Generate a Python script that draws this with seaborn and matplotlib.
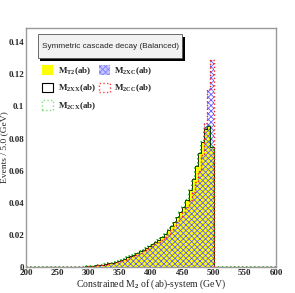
import numpy as np
import pandas as pd
import seaborn as sns
import matplotlib
matplotlib.use('Agg')
import matplotlib.pyplot as plt
from matplotlib.patches import Patch, Rectangle
from matplotlib.ticker import MultipleLocator, FuncFormatter

# Histogram contents, 5 GeV bins starting at 290 GeV (all other bins are empty).
bin_starts = list(range(290, 500, 5))
mt2_vals = [0.0002, 0.0003, 0.0005, 0.0007, 0.0009, 0.0012, 0.0015, 0.0019, 0.0023, 0.0027,
            0.0032, 0.0038, 0.0045, 0.0052, 0.0060, 0.0068, 0.0077, 0.0087, 0.0097, 0.0108,
            0.0118, 0.0128, 0.0140, 0.0155, 0.0170, 0.0188, 0.0207, 0.0228, 0.0252, 0.0280,
            0.0310, 0.0340, 0.0375, 0.0420, 0.0480, 0.0550, 0.0630, 0.0710, 0.0780, 0.0860,
            0.0880, 0.0750]
m2xc_vals = [0.0001, 0.0002, 0.0003, 0.0005, 0.0007, 0.0009, 0.0012, 0.0015, 0.0019, 0.0023,
             0.0027, 0.0032, 0.0038, 0.0045, 0.0052, 0.0060, 0.0068, 0.0077, 0.0087, 0.0097,
             0.0108, 0.0118, 0.0128, 0.0140, 0.0155, 0.0170, 0.0188, 0.0207, 0.0228, 0.0252,
             0.0280, 0.0310, 0.0340, 0.0375, 0.0415, 0.0470, 0.0530, 0.0600, 0.0700, 0.0900,
             0.1110, 0.1290]
# The XX / CX variants follow MT2, the CC variant follows XC.
m2xx_vals = mt2_vals
m2cx_vals = mt2_vals
m2cc_vals = m2xc_vals

x_ticks = [200, 250, 300, 350, 400, 450, 500, 550, 600]
title_text = 'Symmetric cascade decay (Balanced)'
labels = [r'M$_{\mathbf{T2}}$(ab)', r'M$_{\mathbf{2XX}}$(ab)', r'M$_{\mathbf{2CX}}$(ab)',
          r'M$_{\mathbf{2XC}}$(ab)', r'M$_{\mathbf{2CC}}$(ab)']

sns.set_style('white')
plt.rcParams['font.family'] = ['Liberation Serif', 'DejaVu Serif']
plt.rcParams['font.weight'] = 'bold'
plt.rcParams['mathtext.fontset'] = 'custom'
plt.rcParams['mathtext.rm'] = 'Liberation Serif:bold'
plt.rcParams['mathtext.bf'] = 'Liberation Serif:bold'
plt.rcParams['mathtext.it'] = 'Liberation Serif:bold'
plt.rcParams['hatch.linewidth'] = 0.6

centers = np.array(bin_starts) + 2.5
df = pd.DataFrame({'x': centers, 'mt2': mt2_vals, 'm2xx': m2xx_vals, 'm2cx': m2cx_vals,
                   'm2xc': m2xc_vals, 'm2cc': m2cc_vals})
hist_kw = dict(data=df, x='x', binwidth=5, binrange=(200, 600), element='step')

fig = plt.figure(figsize=(2.95, 2.93), dpi=100)
ax = fig.add_axes([0.088, 0.089, 0.848, 0.816])

# MT2: solid yellow
sns.histplot(weights='mt2', fill=True, color='#ffff00', facecolor='#ffff00', edgecolor='#ffff00',
             alpha=1, linewidth=0.5, ax=ax, **hist_kw)
# M2XX: black outline
sns.histplot(weights='m2xx', fill=False, color='black', linewidth=0.6, ax=ax, **hist_kw)
# M2CX: green dotted
sns.histplot(weights='m2cx', fill=False, color='#00a000', linewidth=1.1, linestyle=':',
             ax=ax, **hist_kw)
# M2XC: blue hatch
sns.histplot(weights='m2xc', fill=True, color='#6060ff', facecolor=(1, 1, 1, 0),
             edgecolor='#6060ff', hatch='xxxxxx', alpha=1, linewidth=0, ax=ax, **hist_kw)
# M2CC: red dotted
sns.histplot(weights='m2cc', fill=False, color='#ff2020', linewidth=1.0, linestyle=':',
             ax=ax, **hist_kw)

ax.set_xlim(200, 600)
ax.set_ylim(0, 0.149)
ax.set_xticks(x_ticks)
ax.xaxis.set_minor_locator(MultipleLocator(10))
ax.yaxis.set_major_locator(MultipleLocator(0.02))
ax.yaxis.set_minor_locator(MultipleLocator(0.005))
ax.yaxis.set_major_formatter(FuncFormatter(lambda v, p: '%g' % round(v, 3)))
ax.tick_params(which='both', direction='in', top=False, right=False, labelsize=6.5, pad=1.5)
ax.tick_params(which='major', length=6, width=0.6, color='#555555')
ax.tick_params(which='minor', length=3, width=0.6, color='#555555')
for s in ax.spines.values():
    s.set_color('#999999')
    s.set_linewidth(1.0)

ax.set_xlabel(r'Constrained M$_2$ of (ab)-system (GeV)', fontsize=7, labelpad=0)
ax.set_ylabel('Events / 5.0 (GeV)', fontsize=6.8)
ax.yaxis.set_label_coords(-0.07, 0.5)

# title box with shadow
ax.add_patch(Rectangle((0.058, 0.862), 0.576, 0.10, transform=ax.transAxes,
                       facecolor='black', edgecolor='none', zorder=5))
ax.add_patch(Rectangle((0.048, 0.874), 0.576, 0.10, transform=ax.transAxes,
                       facecolor='#f2f2f2', edgecolor='#555555', linewidth=0.6, zorder=6))
ax.text(0.336, 0.924, title_text, transform=ax.transAxes, ha='center', va='center',
        fontsize=5.9, family='Liberation Sans', fontweight='normal', zorder=7)

handles = [
    Patch(facecolor='#ffff00', edgecolor='none'),
    Patch(facecolor='none', edgecolor='black', linewidth=0.8),
    Patch(facecolor='none', edgecolor='#80e080', linestyle=':', linewidth=1.0),
    Patch(facecolor='#c8c8ff', edgecolor='#8080ff', hatch='xxxxxx', linewidth=0),
    Patch(facecolor='none', edgecolor='#ff4040', linestyle=':', linewidth=1.0),
]
ax.legend(handles, labels, ncol=2, frameon=False, loc='upper left',
          bbox_to_anchor=(0.04, 0.87), fontsize=6.5, handlelength=1.2, handleheight=1.2,
          handletextpad=0.5, columnspacing=0.35, labelspacing=0.65, borderpad=0.2)

fig.savefig('out.png', dpi=100)
